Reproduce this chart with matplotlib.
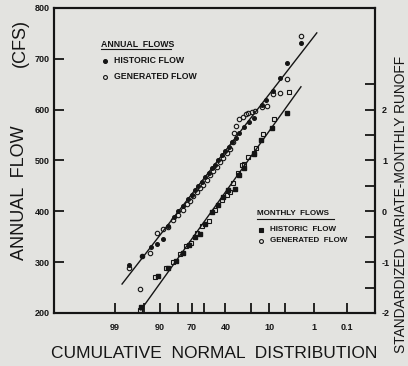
import matplotlib
matplotlib.use("Agg")
import matplotlib.pyplot as plt
from matplotlib.lines import Line2D
from statistics import NormalDist
import numpy as np

# ---------------- data (x = standard normal variate of plotting position) ----------------
# Annual flows (CFS)
ann_hist_z = [-1.99, -1.69, -1.49, -1.35, -1.20, -1.08, -0.95, -0.85, -0.73, -0.61, -0.53,
              -0.46, -0.38, -0.30, -0.22, -0.14, -0.07, 0.01, 0.09, 0.17, 0.25, 0.33, 0.42,
              0.50, 0.58, 0.68, 0.80, 0.92, 1.10, 1.20, 1.36, 1.53, 1.69, 2.01]
ann_hist_q = [295, 313, 330, 335, 345, 372, 388, 400, 410, 425, 432, 442, 450, 458, 468, 476,
              485, 492, 501, 511, 518, 527, 536, 545, 555, 566, 576, 583, 610, 619, 636, 662,
              691, 731]
ann_gen_z = [-1.99, -1.74, -1.69, -1.50, -1.34, -1.20, -1.08, -0.98, -0.85, -0.73, -0.65,
             -0.58, -0.50, -0.42, -0.35, -0.27, -0.18, -0.10, -0.03, 0.05, 0.13, 0.21, 0.29,
             0.36, 0.44, 0.46, 0.50, 0.58, 0.66, 0.74, 0.79, 0.87, 0.95, 1.10, 1.23, 1.36,
             1.53, 1.70, 2.01]
ann_gen_q = [288, 247, 313, 318, 358, 365, 370, 383, 393, 403, 415, 420, 430, 438, 445, 452,
             462, 472, 480, 488, 497, 505, 514, 522, 537, 555, 568, 582, 586, 591, 594, 596,
             598, 605, 607, 631, 633, 660, 744]
ann_fit_z = [-2.16, 2.39]
ann_fit_q = [257, 751]

# Monthly flows (standardized variate)
mon_hist_z = [-1.72, -1.31, -1.08, -0.90, -0.73, -0.59, -0.46, -0.34, -0.22, -0.05, 0.09,
              0.21, 0.32, 0.48, 0.57, 0.69, 0.92, 1.08, 1.35, 1.69]
mon_hist_v = [-1.89, -1.27, -1.11, -0.97, -0.81, -0.66, -0.51, -0.44, -0.24, -0.02, 0.12,
              0.29, 0.42, 0.44, 0.72, 0.86, 1.13, 1.40, 1.63, 1.93]
mon_gen_z = [-1.74, -1.39, -1.13, -0.96, -0.81, -0.67, -0.56, -0.42, -0.30, -0.12, 0.01,
             0.17, 0.29, 0.36, 0.44, 0.56, 0.64, 0.70, 0.79, 0.93, 0.97, 1.14, 1.39, 1.75]
mon_gen_v = [-1.95, -1.30, -1.12, -0.99, -0.83, -0.68, -0.62, -0.43, -0.29, -0.19, 0.03,
             0.22, 0.32, 0.39, 0.55, 0.75, 0.91, 0.93, 1.07, 1.14, 1.24, 1.52, 1.81, 2.35]
mon_fit_z = [-1.72, 2.02]
mon_fit_v = [-1.94, 2.45]

# axis ticks
prob_ticks = [99, 95, 90, 80, 70, 60, 40, 20, 10, 5, 1, 0.1]
prob_labels = {99: "99", 90: "90", 70: "70", 40: "40", 10: "10", 1: "1", 0.1: "0.1"}
flow_ticks = [200, 300, 400, 500, 600, 700, 800]
std_ticks = [-2, -1.5, -1, -0.5, 0, 0.5, 1, 1.5, 2, 2.5]

# ---------------- drawing ----------------
BG = "#e3e3e0"
INK = "#151515"
plt.rcParams["font.family"] = ["Liberation Sans", "DejaVu Sans"]

fig = plt.figure(figsize=(4.08, 3.66), dpi=100, facecolor=BG)
ax = fig.add_axes([54 / 408, 1 - 313 / 366, 321 / 408, 305 / 366])
ax.set_facecolor(BG)
ax2 = ax.twinx()

nd = NormalDist()
zt = [nd.inv_cdf(1 - p / 100) for p in prob_ticks]
ax.set_xlim(-3.75, 3.75)
ax.set_xticks(zt)
ax.set_xticklabels([prob_labels.get(p, "") for p in prob_ticks])
ax.set_ylim(200, 800)
ax.set_yticks(flow_ticks)
ax2.set_ylim(-2, 4)
ax2.set_yticks(std_ticks)
ax2.set_yticklabels([("%d" % t) if float(t).is_integer() else "" for t in std_ticks])

for a in (ax, ax2):
    for s in a.spines.values():
        s.set_linewidth(1.5)
        s.set_color(INK)
ax.tick_params(axis="y", direction="in", length=7, width=1.3, colors=INK,
               labelsize=6.5, pad=3)
ax.tick_params(axis="x", direction="in", length=7, width=1.3, colors=INK,
               labelsize=6.5, pad=7)
ax2.tick_params(axis="y", direction="in", length=7, width=1.3, colors=INK,
                labelsize=6.5, pad=5)
for lab in ax.get_xticklabels() + ax.get_yticklabels() + ax2.get_yticklabels():
    lab.set_fontweight("bold")

# annual
ax.plot(ann_fit_z, ann_fit_q, color=INK, lw=1.0, zorder=2)
ax.plot(ann_hist_z, ann_hist_q, "o", ms=2.6, color=INK, zorder=3)
ax.plot(ann_gen_z, ann_gen_q, "o", ms=3.2, mfc="none", mec=INK, mew=0.8, zorder=3)
# monthly
ax2.plot(mon_fit_z, mon_fit_v, color=INK, lw=1.0, zorder=2)
ax2.plot(mon_hist_z, mon_hist_v, "s", ms=2.8, color=INK, zorder=3)
ax2.plot(mon_gen_z, mon_gen_v, "s", ms=3.0, mfc="none", mec=INK, mew=0.8, zorder=3)

# axis titles
fig.text(20 / 408, 1 - 193 / 366, "ANNUAL  FLOW", rotation=90, ha="center",
         va="center", fontsize=13, color=INK)
fig.text(20 / 408, 1 - 43 / 366, "(CFS)", rotation=90, ha="center",
         va="center", fontsize=13, color=INK)
fig.text(214.5 / 408, 1 - 353 / 366, "CUMULATIVE  NORMAL  DISTRIBUTION", ha="center",
         va="center", fontsize=12.5, color=INK)
fig.text(401 / 408, 1 - 204 / 366, "STANDARDIZED VARIATE-MONTHLY RUNOFF", rotation=90,
         ha="center", va="center", fontsize=9.9, color=INK)

# legends
def fx(px):
    return (px - 54) / 321

def fy(py):
    return (313 - py) / 305

def legend_block(x0, y0, head, head_w, items, fs):
    ax.text(fx(x0), fy(y0), head, transform=ax.transAxes, fontsize=fs, ha="left",
            va="center", color=INK, fontweight="bold")
    ax.add_line(Line2D([fx(x0), fx(x0 + head_w)], [fy(y0 + 4.5)] * 2,
                       transform=ax.transAxes, color=INK, lw=0.8))
    for (yy, mk, filled, txt) in items:
        ax.add_line(Line2D([fx(x0 + 4)], [fy(yy)], transform=ax.transAxes, marker=mk,
                           ms=2.8, color=INK, mfc=INK if filled else "none", mew=0.8,
                           ls="none"))
        ax.text(fx(x0 + 13), fy(yy), txt, transform=ax.transAxes, fontsize=fs,
                ha="left", va="center", color=INK, fontweight="bold")

legend_block(101, 45, "ANNUAL  FLOWS", 70,
             [(61, "o", True, "HISTORIC FLOW"), (77, "o", False, "GENERATED FLOW")], 6.3)
legend_block(257, 214, "MONTHLY  FLOWS", 77,
             [(230, "s", True, "HISTORIC  FLOW"), (241, "o", False, "GENERATED  FLOW")], 5.8)

fig.savefig("out.png", dpi=100, facecolor=BG)
